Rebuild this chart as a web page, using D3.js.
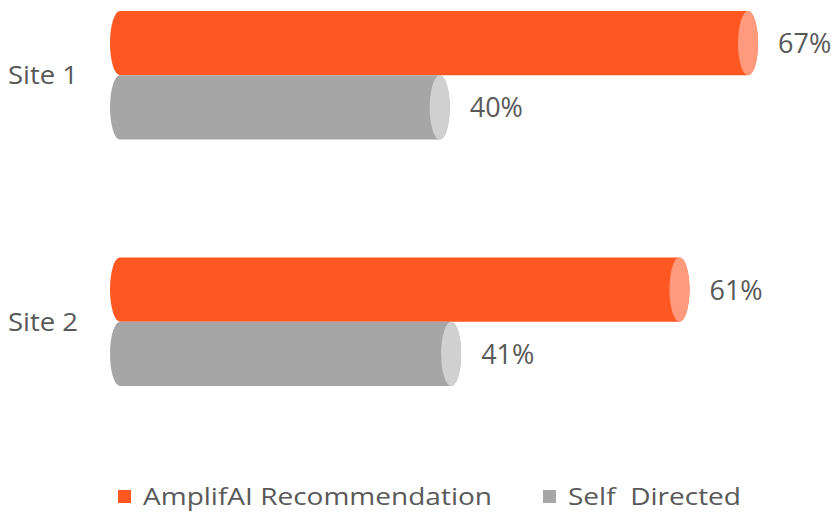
<!DOCTYPE html>
<html>
<head>
<meta charset="UTF-8">
<style>
  body { margin: 0; background: #fff; }
  text { font-family: "Open Sans", sans-serif; fill: #595959; }
</style>
</head>
<body>
<svg id="chart" width="835" height="513"></svg>
<script src="https://d3js.org/d3.v7.min.js"></script>
<script>
const sites = ["Site 1", "Site 2"];
const series = ["AmplifAI Recommendation", "Self Directed"];
const amplifai = [0.67, 0.61];
const selfDirected = [0.40, 0.41];
const legendLabels = ["AmplifAI Recommendation", "Self  Directed"];

const bodyColor = ["#FF5722", "#A6A6A6"];
const capColor = ["#FF9B7C", "#D0D0D0"];

const svg = d3.select("#chart");

// bars start at the left end of the plot, which the picture puts near 12%
const x = d3.scaleLinear().domain([0.12, 0.67]).range([120, 748]);
const y = d3.scaleBand().domain(sites).range([11, 386]).paddingInner(0.478);
const ySub = d3.scaleBand().domain(series).range([0, y.bandwidth()]);

const rx = 10;
const rows = [];
sites.forEach((s, i) => {
  rows.push({ site: s, series: series[0], value: amplifai[i], k: 0 });
  rows.push({ site: s, series: series[1], value: selfDirected[i], k: 1 });
});

const bar = svg.selectAll("g.bar").data(rows).enter().append("g").attr("class", "bar");

bar.append("path")
  .attr("fill", d => bodyColor[d.k])
  .attr("d", d => {
    const y0 = y(d.site) + ySub(d.series);
    const h = ySub.bandwidth();
    const ry = h / 2;
    const x0 = x.range()[0], x1 = x(d.value);
    return `M${x0},${y0} L${x1},${y0} A${rx},${ry} 0 0 1 ${x1},${y0 + h} L${x0},${y0 + h} A${rx},${ry} 0 0 1 ${x0},${y0} Z`;
  });

bar.append("ellipse")
  .attr("fill", d => capColor[d.k])
  .attr("cx", d => x(d.value))
  .attr("cy", d => y(d.site) + ySub(d.series) + ySub.bandwidth() / 2)
  .attr("rx", rx)
  .attr("ry", ySub.bandwidth() / 2);

bar.append("text")
  .attr("x", d => x(d.value) + rx + 20)
  .attr("y", d => y(d.site) + ySub(d.series) + ySub.bandwidth() / 2 + 10)
  .attr("font-size", 27)
  .text(d => d3.format(".0%")(d.value));

svg.selectAll("text.site").data(sites).enter().append("text")
  .attr("class", "site")
  .attr("x", 8)
  .attr("y", d => y(d) + y.bandwidth() / 2 + 9)
  .attr("font-size", 25)
  .attr("textLength", 70)
  .attr("lengthAdjust", "spacingAndGlyphs")
  .text(d => d);

// legend
const legX = [118, 543];
const legW = [349, 173];
const leg = svg.selectAll("g.leg").data(legendLabels).enter().append("g").attr("class", "leg");
leg.append("rect")
  .attr("x", (d, i) => legX[i]).attr("y", 490)
  .attr("width", 13).attr("height", 13)
  .attr("fill", (d, i) => bodyColor[i]);
leg.append("text")
  .attr("x", (d, i) => legX[i] + 25)
  .attr("y", 505)
  .attr("font-size", 23)
  .attr("textLength", (d, i) => legW[i])
  .attr("lengthAdjust", "spacingAndGlyphs")
  .style("white-space", "pre")
  .text(d => d);
</script>
</body>
</html>
